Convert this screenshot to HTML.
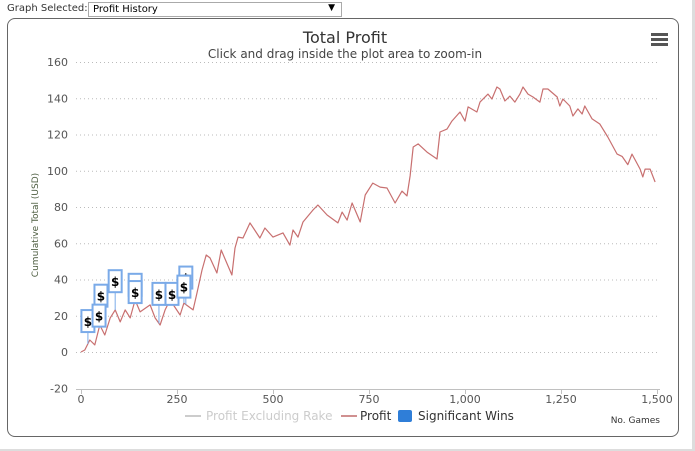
<!DOCTYPE html>
<html><head><meta charset="utf-8"><style>
body{margin:0;width:695px;height:451px;overflow:hidden;background:#fff;font-family:"DejaVu Sans","Liberation Sans",sans-serif;}
#top{position:absolute;left:7px;top:3px;font-size:10px;color:#333}
#sel{position:absolute;left:88px;top:2px;width:254px;height:15px;border:1px solid #aaa;font-size:10px;color:#000;box-sizing:border-box;padding:1px 4px}
#frame{position:absolute;left:7px;top:18px;width:672px;height:419px;border:1px solid #666;border-radius:8px;box-sizing:border-box}
#strip{position:absolute;left:692px;top:0;width:3px;height:451px;background:#ddd}
#bot{position:absolute;left:0;top:449px;width:692px;height:2px;background:#ddd}
</style></head><body>
<div id="top">Graph Selected:</div>
<div id="sel">Profit History<span style="position:absolute;right:6px;top:0px;font-size:9px">▼</span></div>
<div id="frame"></div>
<div id="strip"></div>
<div id="bot"></div>
<svg id="chart" width="695" height="451" style="position:absolute;left:0;top:0" font-family="DejaVu Sans, Liberation Sans, sans-serif">
<text x="345" y="43" text-anchor="middle" font-size="16" fill="#333">Total Profit</text>
<text x="345" y="58" text-anchor="middle" font-size="12" fill="#444">Click and drag inside the plot area to zoom-in</text>
<g fill="#555"><rect x="651" y="33" width="17" height="3"/><rect x="651" y="38" width="17" height="3"/><rect x="651" y="43" width="17" height="3"/></g>
<text transform="translate(38,225) rotate(-90)" text-anchor="middle" font-size="9" fill="#4d5d40">Cumulative Total (USD)</text>
<text x="660" y="423" text-anchor="end" font-size="9" fill="#333">No. Games</text>
<g id="grid"></g><g id="axes"></g><g id="series"></g><g id="flags"></g>
<g font-size="12">
<g><line x1="185" y1="416" x2="201" y2="416" stroke="#ccc" stroke-width="2"/><text x="206" y="420" fill="#ccc">Profit Excluding Rake</text></g>
<g><line x1="341" y1="416" x2="357" y2="416" stroke="#d09090" stroke-width="2"/><text x="360" y="420" fill="#333">Profit</text></g>
<g><rect x="398" y="410" width="14" height="12" rx="2" fill="#2f7ed8"/><text x="418" y="420" fill="#333">Significant Wins</text></g>
</g>
</svg>
<script>
const yTicks=[160,140,120,100,80,60,40,20,0,-20];
const xTicks=[0,250,500,750,1000,1250,1500];
const xTickLabels=["0","250","500","750","1,000","1,250","1,500"];
const games=[0,10,23,36,49,62,76,89,102,115,128,141,154,180,193,206,219,232,258,268,292,302,315,326,336,354,365,393,401,409,422,440,466,479,500,526,544,552,565,578,604,617,641,669,680,693,706,727,740,760,779,797,818,836,849,857,865,878,901,927,935,953,966,987,1000,1008,1031,1039,1060,1070,1083,1091,1104,1117,1130,1143,1151,1164,1177,1195,1203,1216,1240,1247,1255,1273,1281,1294,1305,1312,1331,1351,1372,1396,1409,1424,1435,1456,1463,1469,1482,1495];
const profit=[0,1.1,6.6,3.9,14.9,9.4,18.8,23.2,16.6,23.2,18.8,28.7,22.1,26,18.8,14.9,23.2,28.7,20.4,27,23.2,32.6,45.2,53.5,51.9,43.6,56.3,42.5,57.4,63.4,62.9,71.2,62.9,68.4,63.4,65.7,59,67.3,63.4,71.7,78.3,81.1,75.6,71.2,77.2,72.8,82.2,71.7,86.6,93.2,91,90.5,82.2,88.8,86.1,97.1,113.1,114.8,110.3,106.5,121.4,123,127.4,132.4,127.4,135.2,132.4,137.9,142.3,139.6,146.2,145.1,138.5,141.2,137.9,142.3,146.2,142.3,140.7,137.9,145.1,145.1,140.7,135.7,139.6,135.7,130.2,134.1,131.3,135.7,128.6,125.8,118.6,109.2,107.9,103.4,109.2,100.9,96.6,100.9,100.9,93.8];
const winGames=[52,141,18,47,89,141,203,237,273,268];
const winFlagY=[25,31,11,14,33,27,26,26,35,30];
const NS="http://www.w3.org/2000/svg";
const X=g=>81+g*576/1500, Y=v=>352-v*290/160;
function mk(t,a,p){const e=document.createElementNS(NS,t);for(const k in a)e.setAttribute(k,a[k]);p.appendChild(e);return e;}
const grid=document.getElementById('grid'),axes=document.getElementById('axes');
yTicks.forEach(v=>{
 if(v!==-20){const l=mk('line',{x1:76,x2:660,y1:Y(v)+0.5,y2:Y(v)+0.5,stroke:'#bbb','stroke-dasharray':'1,3'},grid);
 
 }
 const t=mk('text',{x:68,y:Y(v)+4,'text-anchor':'end','font-size':11,fill:'#555'},axes);t.textContent=v;
 
 
});
const ax=mk('line',{x1:76,x2:660,y1:389.5,y2:389.5,stroke:'#c0c0c0'},axes);


xTicks.forEach((g,i)=>{
 const tk=mk('line',{x1:X(g)+0.5,x2:X(g)+0.5,y1:389,y2:394,stroke:'#c0c0c0'},axes);
 
 
 const t=mk('text',{x:X(g),y:403,'text-anchor':'middle','font-size':11,fill:'#555'},axes);t.textContent=xTickLabels[i];
 
 
});
const pl=mk('polyline',{points:games.map((g,i)=>X(g).toFixed(1)+','+Y(profit[i]).toFixed(1)).join(' '),fill:'none',stroke:'#c87070','stroke-width':1.2,'stroke-linejoin':'round'},document.getElementById('series'));


function valAt(g){for(let i=1;i<games.length;i++){if(games[i]>=g){const t=(g-games[i-1])/(games[i]-games[i-1]);return profit[i-1]+t*(profit[i]-profit[i-1]);}}return profit[profit.length-1];}
const fl=document.getElementById('flags');
winGames.forEach((g,i)=>{
 const gr=mk('g',{},fl);
 
 
 const x=X(g),yb=Y(winFlagY[i]),ys=Y(valAt(g));
 mk('line',{x1:x,x2:x,y1:yb,y2:ys,stroke:'#7aaae8'},gr);
 mk('rect',{x:x-6.5,y:yb-22,width:13,height:22,fill:'#fff',stroke:'#7aaae8','stroke-width':2},gr);
 const t=mk('text',{x:x,y:yb-6,'text-anchor':'middle','font-size':12,'font-weight':'bold',fill:'#000'},gr);t.textContent='$';
});
</script>
</body></html>
